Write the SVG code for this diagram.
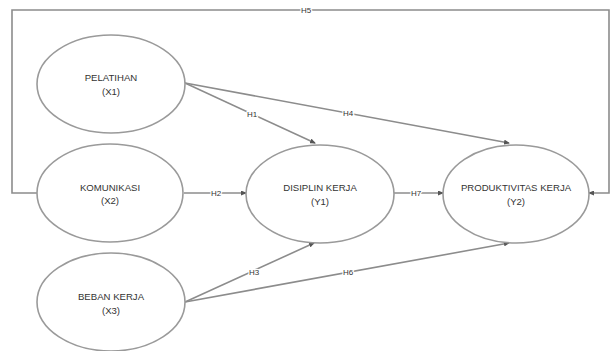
<svg xmlns="http://www.w3.org/2000/svg" width="611" height="351" viewBox="0 0 611 351">
<defs>
<style>
.node ellipse{fill:#fff;stroke:#9a9a9a;stroke-width:1.6}
.node text{font-family:"Liberation Sans",Arial,sans-serif;font-size:9.6px;fill:#333;text-anchor:middle}
.edge{fill:none;stroke:#8c8c8c;stroke-width:1.6}
.lbl{font-family:"Liberation Sans",Arial,sans-serif;font-size:8px;fill:#333;text-anchor:middle;stroke:#fff;stroke-width:2.5px;paint-order:stroke;stroke-linejoin:round}
</style>
<marker id="arr" markerWidth="6" markerHeight="5" refX="5" refY="2.5" orient="auto" markerUnits="userSpaceOnUse">
<path d="M0,0 L6,2.5 L0,5 z" fill="#555"/>
</marker>
</defs>
<rect width="611" height="351" fill="#fff"/>
<g id="connectors">
<polyline class="edge" points="37,193 12,193 12,10 609,10 609,193 589,193" marker-end="url(#arr)"/>
<line class="edge" x1="185" y1="83" x2="315" y2="143" marker-end="url(#arr)"/>
<line class="edge" x1="185" y1="83" x2="509" y2="143" marker-end="url(#arr)"/>
<line class="edge" x1="184" y1="193" x2="246" y2="193" marker-end="url(#arr)"/>
<line class="edge" x1="185" y1="302" x2="314" y2="243" marker-end="url(#arr)"/>
<line class="edge" x1="185" y1="302" x2="509" y2="243" marker-end="url(#arr)"/>
<line class="edge" x1="394" y1="193" x2="443" y2="193" marker-end="url(#arr)"/>
<text class="lbl" x="306" y="13">H5</text>
<text class="lbl" x="252" y="117">H1</text>
<text class="lbl" x="348" y="116">H4</text>
<text class="lbl" x="216" y="196">H2</text>
<text class="lbl" x="416" y="196">H7</text>
<text class="lbl" x="254" y="275">H3</text>
<text class="lbl" x="348" y="275">H6</text>
</g>
<g id="x1" class="node">
<ellipse cx="111" cy="84" rx="74" ry="49"/>
<text x="111" y="81">PELATIHAN</text>
<text x="111" y="94.5">(X1)</text>
</g>
<g id="x2" class="node">
<ellipse cx="110" cy="193" rx="73" ry="49"/>
<text x="110" y="190.5">KOMUNIKASI</text>
<text x="110" y="204">(X2)</text>
</g>
<g id="x3" class="node">
<ellipse cx="111" cy="302" rx="74" ry="49"/>
<text x="111" y="300">BEBAN KERJA</text>
<text x="111" y="313.5">(X3)</text>
</g>
<g id="y1" class="node">
<ellipse cx="320" cy="194" rx="74" ry="49"/>
<text x="320" y="191">DISIPLIN KERJA</text>
<text x="320" y="204.5">(Y1)</text>
</g>
<g id="y2" class="node">
<ellipse cx="516" cy="194" rx="73" ry="49"/>
<text x="516" y="191">PRODUKTIVITAS KERJA</text>
<text x="516" y="204.5">(Y2)</text>
</g>
</svg>
